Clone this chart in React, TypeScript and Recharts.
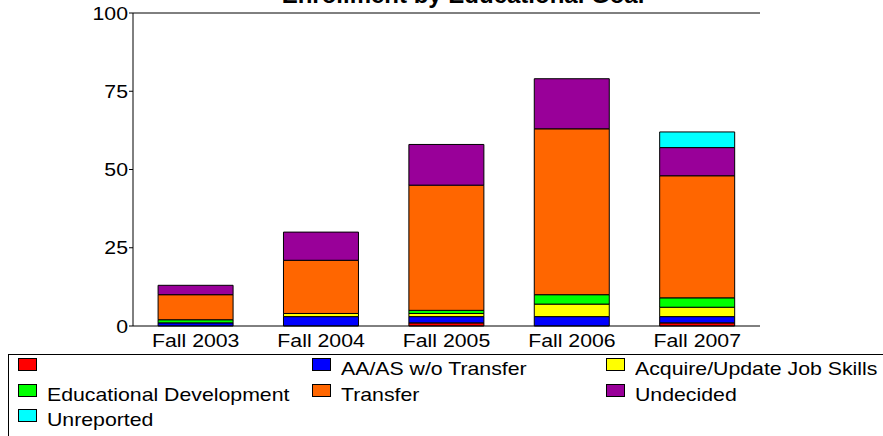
import React from "react";
import {
  BarChart,
  Bar,
  XAxis,
  YAxis,
  Legend,
  ReferenceLine,
} from "recharts";

const categories = ["Fall 2003", "Fall 2004", "Fall 2005", "Fall 2006", "Fall 2007"];
const blankGoal = [0, 0, 1, 0, 1];
const aaWithoutTransfer = [1, 3, 2, 3, 2];
const acquireSkills = [0, 1, 1, 4, 3];
const educationalDev = [1, 0, 1, 3, 3];
const transfer = [8, 17, 40, 53, 39];
const undecided = [3, 9, 13, 16, 9];
const unreported = [0, 0, 0, 0, 5];
const yTicks = [0, 25, 50, 75, 100];

const series = [
  { key: "blank", name: "", color: "#ff0000", values: blankGoal },
  { key: "aaas", name: "AA/AS w/o Transfer", color: "#0000ff", values: aaWithoutTransfer },
  { key: "acquire", name: "Acquire/Update Job Skills", color: "#ffff00", values: acquireSkills },
  { key: "edDev", name: "Educational Development", color: "#00ff00", values: educationalDev },
  { key: "transfer", name: "Transfer", color: "#ff6600", values: transfer },
  { key: "undecided", name: "Undecided", color: "#990099", values: undecided },
  { key: "unreported", name: "Unreported", color: "#00ffff", values: unreported },
];

const data = categories.map((cat, i) => {
  const row: Record<string, string | number> = { cat };
  series.forEach((s) => {
    row[s.key] = s.values[i];
  });
  return row;
});

const FONT = "'Liberation Sans', Arial, Helvetica, sans-serif";
const FONT_SIZE = 18.5;
// the original's text is a little wide for its height
const STRETCH = 1.15;

const XTick = ({ x, y, payload }: any) => (
  <g transform={`translate(${x},${y}) scale(${STRETCH},1)`}>
    <text x={0} y={0} dy="0.71em" textAnchor="middle" fontFamily={FONT} fontSize={FONT_SIZE} fill="#000">
      {payload.value}
    </text>
  </g>
);

const YTick = ({ x, y, payload }: any) => (
  <g transform={`translate(${x},${y}) scale(${STRETCH},1)`}>
    <text x={0} y={0} dy="0.355em" textAnchor="end" fontFamily={FONT} fontSize={FONT_SIZE} fill="#000">
      {payload.value}
    </text>
  </g>
);

// legend drawn as a boxed 3-column grid, like the original
const LegendBox = () => {
  const colX = [9, 303, 597];
  const rowY = [3, 29, 54];
  return (
    <div
      style={{
        position: "relative",
        width: 900,
        height: 100,
        borderTop: "1px solid #000",
        borderLeft: "1px solid #000",
        fontFamily: FONT,
        fontSize: FONT_SIZE,
        color: "#000",
      }}
    >
      {series.map((s, i) => {
        const x = colX[i % 3];
        const y = rowY[Math.floor(i / 3)];
        return (
          <div key={s.key}>
            <div
              style={{
                position: "absolute",
                left: x,
                top: y,
                width: 17,
                height: 11,
                background: s.color,
                border: "1px solid #000",
              }}
            />
            <div
              style={{
                position: "absolute",
                left: x + 29,
                top: y,
                lineHeight: "22px",
                whiteSpace: "nowrap",
                transform: `scaleX(${STRETCH})`,
                transformOrigin: "left center",
              }}
            >
              {s.name}
            </div>
          </div>
        );
      })}
    </div>
  );
};

export default function App() {
  return (
    <div
      style={{
        position: "absolute",
        left: 0,
        top: 0,
        width: 883,
        height: 436,
        overflow: "hidden",
        background: "#fff",
      }}
    >
      <BarChart
        width={883}
        height={436}
        data={data}
        margin={{ top: 13, right: 123, left: 0, bottom: 80 }}
        barCategoryGap="20%"
      >
        <text
          x={463}
          y={3}
          textAnchor="middle"
          fontFamily={FONT}
          fontWeight="bold"
          fontSize={24}
          fill="#000"
        >
          Enrollment by Educational Goal
        </text>
        <XAxis
          dataKey="cat"
          height={30}
          tickSize={0}
          tickMargin={8}
          tickLine={false}
          axisLine={{ stroke: "#000", strokeWidth: 1 }}
          tick={<XTick />}
          interval={0}
        />
        <YAxis
          width={133}
          domain={[0, 100]}
          ticks={yTicks}
          tickSize={4}
          tickMargin={1}
          tickLine={{ stroke: "#000" }}
          axisLine={{ stroke: "#000", strokeWidth: 1 }}
          tick={<YTick />}
        />
        <YAxis
          yAxisId="frame"
          orientation="right"
          width={0}
          tick={false}
          tickLine={false}
          axisLine={{ stroke: "#000", strokeWidth: 1 }}
        />
        <ReferenceLine y={100} stroke="#000" strokeWidth={1} />
        {series.map((s) => (
          <Bar
            key={s.key}
            dataKey={s.key}
            name={s.name}
            stackId="goal"
            fill={s.color}
            stroke="#000"
            strokeWidth={1}
            isAnimationActive={false}
          />
        ))}
        <Legend
          verticalAlign="middle"
          layout="horizontal"
          wrapperStyle={{ top: 354, left: 8, width: 900, height: 100 }}
          content={() => <LegendBox />}
        />
      </BarChart>
    </div>
  );
}
